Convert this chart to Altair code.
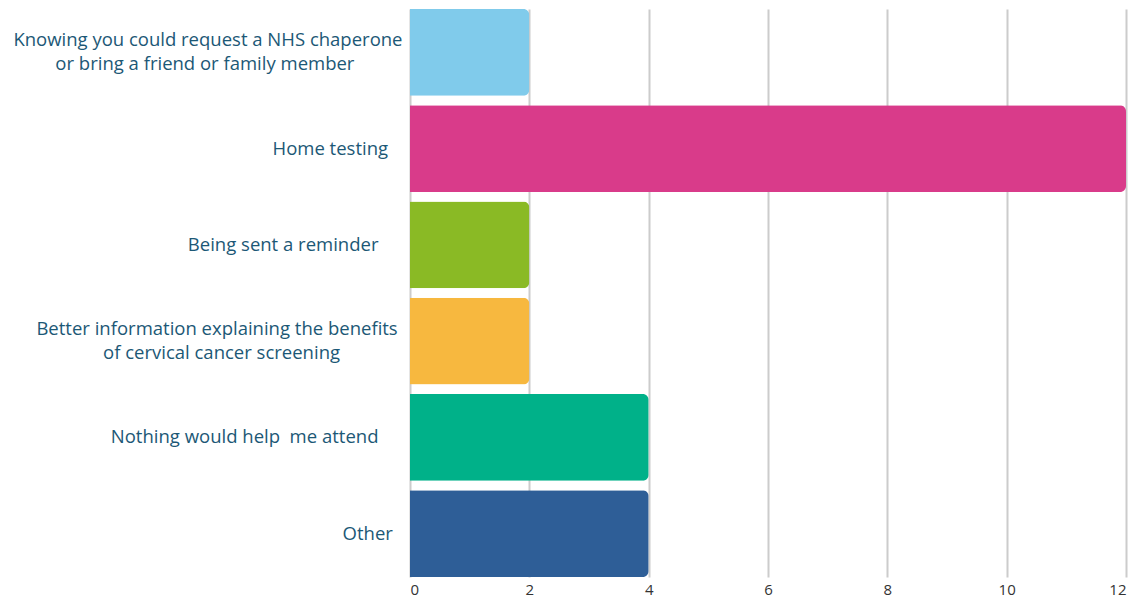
import altair as alt
import pandas as pd

NB = "\u00a0"
ZW = "\u200b"
categories = [
    "Knowing you could request a NHS chaperone\nor bring a friend or family member",
    "Home testing",
    "Being sent a reminder",
    "Better information explaining the benefits\nof cervical cancer screening",
    "Nothing would help\u00a0 me attend",
    "Other",
]
# trailing non-breaking spaces per label line (centres the second lines as in the source)
pads = [[0, 10], [3], [5], [1, 13], [5], [2]]
values = [2, 12, 2, 2, 4, 4]
colors = ["#80cbeb", "#d93b8a", "#8aba25", "#f7b83f", "#00b189", "#2e5e97"]

labels = [
    "\n".join(line + (NB * p + ZW if p else "") for line, p in zip(c.split("\n"), pad))
    for c, pad in zip(categories, pads)
]

df = pd.DataFrame({"cat": labels, "val": values})

label_expr = "split(datum.label, '\\n')"

chart = (
    alt.Chart(df)
    .mark_bar(cornerRadiusEnd=6)
    .encode(
        x=alt.X(
            "val:Q",
            scale=alt.Scale(domain=[0, 12], nice=False),
            axis=alt.Axis(
                values=[0, 2, 4, 6, 8, 10, 12],
                title=None,
                grid=True,
                gridColor="#cccccc",
                gridWidth=2,
                domain=False,
                ticks=False,
                labelFont="Open Sans",
                labelFontSize=15,
                labelColor="#333333",
                labelPadding=5,
            ),
        ),
        y=alt.Y(
            "cat:N",
            sort=labels,
            scale=alt.Scale(paddingInner=0.1, paddingOuter=0),
            axis=alt.Axis(
                title=None,
                domain=False,
                ticks=False,
                labelExpr=label_expr,
                labelFont="Open Sans",
                labelFontSize=18.5,
                labelColor="#1c5876",
                labelPadding=8,
                labelLineHeight=24,
                labelLimit=420,
                labelOffset={
                    "condition": {"test": "indexof(datum.label, '\\n') >= 0", "value": -12},
                    "value": 0,
                },
            ),
        ),
        color=alt.Color("cat:N", scale=alt.Scale(domain=labels, range=colors), legend=None),
    )
    .properties(
        width=716,
        height=568,
        padding={"left": 410, "top": 9, "right": 7, "bottom": 23},
        autosize=alt.AutoSizeParams(type="none"),
    )
    .configure_view(stroke=None)
)

chart.save("out.html", embed_options={"renderer": "svg", "actions": False})
